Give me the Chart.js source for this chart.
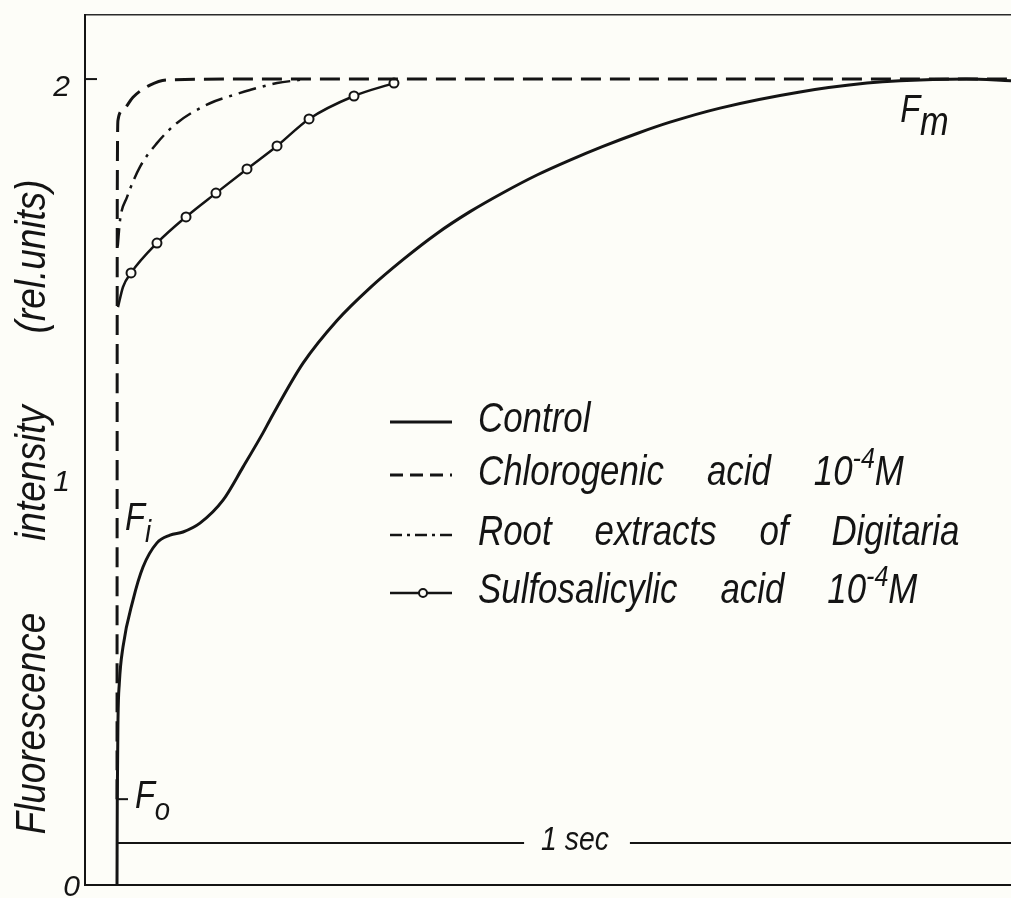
<!DOCTYPE html>
<html>
<head>
<meta charset="utf-8">
<script src="https://cdn.jsdelivr.net/npm/chart.js@4.4.1/dist/chart.umd.min.js"></script>
<style>
  html, body { margin: 0; padding: 0; background: #fdfdf8; overflow: hidden; }
  #wrap { width: 1011px; height: 898px; position: relative; }
  canvas { display: block; }
</style>
</head>
<body>
<div id="wrap"><canvas id="c" width="1011" height="898"></canvas></div>
<script>
// ---------- data (time in s, fluorescence in rel. units) ----------
const controlTime  = [0, 0.0003, 0.0011, 0.0026, 0.0067, 0.0179, 0.0291, 0.0447, 0.0593, 0.0738, 0.0928, 0.1186, 0.1409, 0.1633, 0.1711, 0.2081, 0.2461, 0.2830, 0.3199, 0.3579, 0.3949, 0.4318, 0.4698, 0.5067, 0.5436, 0.5817, 0.6186, 0.6745, 0.7640, 0.8389, 0.8758, 0.95, 1.0];
const controlValue = [0, 0.211, 0.409, 0.501, 0.591, 0.707, 0.789, 0.849, 0.868, 0.876, 0.898, 0.955, 1.037, 1.122, 1.154, 1.295, 1.401, 1.482, 1.552, 1.617, 1.671, 1.718, 1.762, 1.799, 1.833, 1.865, 1.893, 1.928, 1.968, 1.990, 1.996, 2.0, 1.996];

const chlorogenicTime  = [0, 0.0003, 0.0011, 0.0067, 0.0179, 0.0369, 0.0559, 0.15, 1.0];
const chlorogenicValue = [0.213, 1.70, 1.898, 1.923, 1.955, 1.985, 1.998, 2.0, 2.0];

const rootTime  = [0.0008, 0.0034, 0.0112, 0.0257, 0.0447, 0.0671, 0.1040, 0.1298, 0.1488, 0.1790, 0.2047];
const rootValue = [1.585, 1.650, 1.707, 1.782, 1.841, 1.891, 1.940, 1.960, 1.973, 1.990, 1.998];

const sulfoTime   = [0.0011, 0.0067, 0.0157, 0.0447, 0.0772, 0.1107, 0.1454, 0.1790, 0.2148, 0.2651, 0.3098];
const sulfoValue  = [1.434, 1.484, 1.519, 1.593, 1.658, 1.717, 1.777, 1.834, 1.901, 1.958, 1.990];
const sulfoMarked = [false, false, true, true, true, true, true, true, true, true, true];

const seriesLabels = ['Control', 'Chlorogenic acid 10^{-4}M', 'Root extracts of Digitaria', 'Sulfosalicylic acid 10^{-4}M'];

const yTickValues = [0, 1, 2];
const yTickLabels = ['0', '1', '2'];
const yMin = 0, yMax = 2.159;
const xMin = -0.0358, xMax = 1.0;

const fZeroValue = 0.213;          // F0 level
const scaleBar = { from: 0, to: 1, level: 0.104, label: '1 sec' };
const annotations = [
  { main: 'F', sub: 'm', t: 0.876, v: 1.893 },
  { main: 'F', sub: 'i', t: 0.009, v: 0.881 },
  { main: 'F', sub: 'o', t: 0.020, v: 0.191 }
];
const yTitle = ['Fluorescence', 'intensity', '(rel.units)'];

// ---------- helpers ----------
const INK = '#141414';
const FAM = '"Liberation Sans", "DejaVu Sans", sans-serif';
const fnt = s => `italic ${s}px ${FAM}`;
const pts = (xs, ys) => xs.map((x, i) => ({ x, y: ys[i] }));

function parseParts(label) {
  const parts = [];
  const re = /\^\{([^}]*)\}/g;
  let last = 0, m;
  while ((m = re.exec(label))) {
    if (m.index > last) parts.push({ text: label.slice(last, m.index) });
    parts.push({ text: m[1], sup: true });
    last = re.lastIndex;
  }
  if (last < label.length) parts.push({ text: label.slice(last) });
  return parts;
}

function runParts(ctx, parts, size, gap, draw) {
  let cx = 0;
  for (const p of parts) {
    const s = p.sup ? size * 0.72 : (p.sub ? size * p.k : size);
    ctx.font = fnt(s);
    const dy = p.sup ? -size * 0.40 : (p.sub ? p.dy : 0);
    const words = p.text.split(' ');
    words.forEach((w, i) => {
      if (i > 0) cx += ctx.measureText(' ').width + gap;
      if (draw) ctx.fillText(w, cx, dy);
      cx += ctx.measureText(w).width;
    });
  }
  return cx;
}

function drawParts(ctx, parts, x, y, size, sx, gap, align) {
  ctx.save();
  ctx.translate(x, y);
  ctx.scale(sx, 1);
  ctx.textAlign = 'left';
  ctx.textBaseline = 'alphabetic';
  ctx.fillStyle = INK;
  const w = runParts(ctx, parts, size, gap, false);
  if (align === 'center') ctx.translate(-w / 2, 0);
  if (align === 'right') ctx.translate(-w, 0);
  runParts(ctx, parts, size, gap, true);
  ctx.restore();
}

const decor = {
  id: 'decor',
  afterDatasetsDraw(chart) {
    const ctx = chart.ctx;
    const xs = chart.scales.x, ys = chart.scales.y;
    const area = chart.chartArea;
    ctx.save();
    ctx.strokeStyle = INK;
    ctx.fillStyle = INK;
    ctx.lineCap = 'butt';

    // y tick labels
    const labelRight = [80, 70, 70];
    const labelShift = [11, 9, 17];
    yTickValues.forEach((v, i) => {
      drawParts(ctx, [{ text: yTickLabels[i] }], labelRight[i], ys.getPixelForValue(v) + labelShift[i], 30, 1, 0, 'right');
    });

    // tick at 2 (inward)
    ctx.lineWidth = 2;
    const y2 = ys.getPixelForValue(2);
    ctx.beginPath(); ctx.moveTo(area.left, y2); ctx.lineTo(area.left + 12, y2); ctx.stroke();

    // F0 tick on time origin
    const x0 = xs.getPixelForValue(0);
    const yF0 = ys.getPixelForValue(fZeroValue);
    ctx.beginPath(); ctx.moveTo(x0, yF0); ctx.lineTo(x0 + 11, yF0); ctx.stroke();

    // scale bar "1 sec"
    const sbY = ys.getPixelForValue(scaleBar.level);
    const sbA = xs.getPixelForValue(scaleBar.from), sbB = xs.getPixelForValue(scaleBar.to);
    const sx = 0.86;
    ctx.font = fnt(33);
    const tw = ctx.measureText(scaleBar.label).width * sx;
    const cx = 575;
    ctx.lineWidth = 2;
    ctx.beginPath();
    ctx.moveTo(sbA, sbY); ctx.lineTo(cx - tw / 2 - 17, sbY);
    ctx.moveTo(cx + tw / 2 + 21, sbY); ctx.lineTo(sbB, sbY);
    ctx.stroke();
    drawParts(ctx, [{ text: scaleBar.label }], cx, sbY + 7, 33, sx, 0, 'center');

    // F annotations
    annotations.forEach(a => {
      const ax = xs.getPixelForValue(a.t), ay = ys.getPixelForValue(a.v);
      const subSize = a.sub === 'm' ? 40 : 32;
      const dy = a.sub === 'm' ? 13 : 12;
      drawParts(ctx, [{ text: a.main }, { text: a.sub, sub: true, k: subSize / 38, dy }], ax, ay, 38, 0.86, 0, 'left');
    });

    // legend
    const rows = [432, 485, 545, 603];
    chart.data.datasets.forEach((ds, i) => {
      const by = rows[i];
      const ly = by - 10;
      ctx.save();
      ctx.strokeStyle = INK;
      ctx.lineWidth = ds.borderWidth;
      ctx.setLineDash(ds.legendDash || []);
      ctx.beginPath(); ctx.moveTo(390, ly); ctx.lineTo(452, ly); ctx.stroke();
      ctx.setLineDash([]);
      if (ds.legendMarker) {
        ctx.beginPath(); ctx.arc(423, ly, 4, 0, Math.PI * 2);
        ctx.fillStyle = '#fdfdf8'; ctx.fill();
        ctx.lineWidth = 2; ctx.stroke();
      }
      ctx.restore();
      drawParts(ctx, parseParts(ds.label), 478, by, 42, 0.83, 40, 'left');
    });

    // y axis title
    ctx.save();
    ctx.translate(45, 507);
    ctx.rotate(-Math.PI / 2);
    drawParts(ctx, [{ text: yTitle.join(' ') }], 0, 0, 42, 0.88, 70, 'center');
    ctx.restore();

    ctx.restore();
  }
};

const black = { borderColor: INK, backgroundColor: INK, fill: false, cubicInterpolationMode: 'monotone' };

new Chart(document.getElementById('c'), {
  type: 'line',
  data: {
    datasets: [
      Object.assign({}, black, {
        label: seriesLabels[0], data: pts(controlTime, controlValue),
        borderWidth: 3, pointRadius: 0
      }),
      Object.assign({}, black, {
        label: seriesLabels[1], data: pts(chlorogenicTime, chlorogenicValue),
        borderWidth: 3, borderDash: [20, 9], legendDash: [13, 7], pointRadius: 0
      }),
      Object.assign({}, black, {
        label: seriesLabels[2], data: pts(rootTime, rootValue),
        borderWidth: 2.5, borderDash: [18, 7, 3, 7], legendDash: [12, 5, 3, 5], pointRadius: 0
      }),
      Object.assign({}, black, {
        label: seriesLabels[3], data: pts(sulfoTime, sulfoValue),
        borderWidth: 2.5, legendMarker: true,
        pointRadius: c => sulfoMarked[c.dataIndex] ? 4.5 : 0,
        pointBackgroundColor: '#fdfdf8', pointBorderColor: INK, pointBorderWidth: 2
      })
    ]
  },
  options: {
    responsive: false,
    animation: false,
    events: [],
    layout: { autoPadding: false, padding: 0 },
    plugins: { legend: { display: false }, tooltip: { enabled: false } },
    scales: {
      x: {
        type: 'linear', min: xMin, max: xMax, position: 'bottom',
        grid: { display: false, drawTicks: false },
        ticks: { display: false },
        border: { display: true, color: INK, width: 2 },
        afterFit: s => { s.height = 13; }
      },
      x2: {
        type: 'linear', min: xMin, max: xMax, position: 'top',
        grid: { display: false, drawTicks: false },
        ticks: { display: false },
        border: { display: true, color: '#2a2a2a', width: 1.5 },
        afterFit: s => { s.height = 15; }
      },
      y: {
        type: 'linear', min: yMin, max: yMax,
        grid: { display: false, drawTicks: false },
        border: { display: true, color: INK, width: 2 },
        afterBuildTicks: s => { s.ticks = yTickValues.map(v => ({ value: v })); },
        ticks: { display: false },
        afterFit: s => { s.width = 85; }
      }
    }
  },
  plugins: [decor]
});
</script>
</body>
</html>
